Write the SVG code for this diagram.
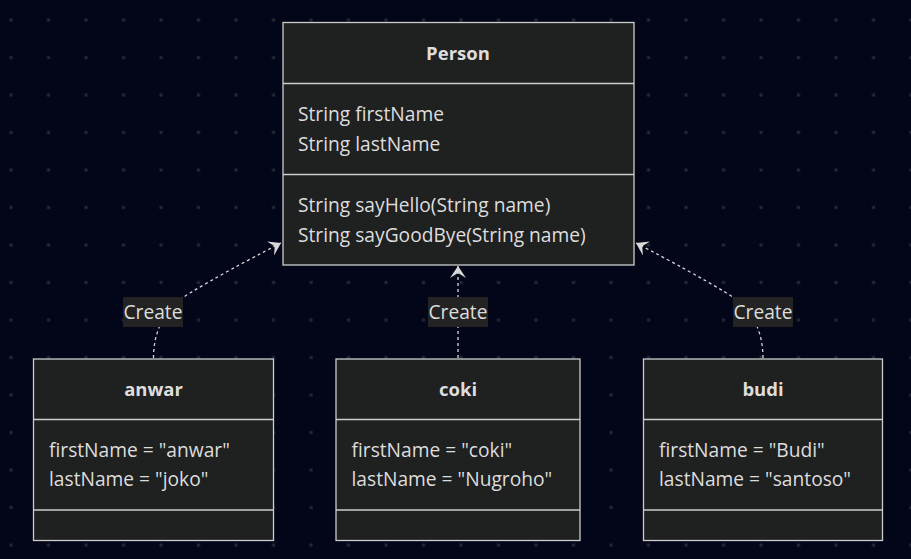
<svg xmlns="http://www.w3.org/2000/svg" width="911" height="559" viewBox="0 0 911 559">
<style>
  .box { fill: #1f2020; stroke: #cccccc; stroke-width: 1.3; }
  .div { stroke: #cccccc; stroke-width: 1.3; }
  text { font-family: "Open Sans", "Liberation Sans", sans-serif; font-size: 19.2px; font-weight: 500; fill: #dddddd; }
  .title { font-weight: bold; font-size: 18.5px; text-anchor: middle; }
  .lbl { text-anchor: middle; }
  .lblbg { fill: #232323; }
  .edge { fill: none; stroke: #d8d8d8; stroke-width: 1.3; stroke-dasharray: 3 3; }
</style>
<defs>
  <pattern id="dots" patternUnits="userSpaceOnUse" width="37.5" height="37.5">
    <rect x="9.5" y="18.5" width="3" height="3" fill="#262a36"/>
  </pattern>
  <marker id="dep" markerUnits="userSpaceOnUse" viewBox="0 0 12 16" refX="12" refY="8" markerWidth="12" markerHeight="16" orient="auto">
    <path d="M12,8 L0,0 L5,8 L0,16 Z" fill="#d8d8d8"/>
  </marker>
</defs>
<rect width="911" height="559" fill="#020618"/>
<rect width="911" height="559" fill="url(#dots)"/>

<g id="connectors">
  <path class="edge" d="M153.5,358 Q153.5,315 190,293 T281,243" marker-end="url(#dep)"/>
  <path class="edge" d="M458,358 L458,266" marker-end="url(#dep)"/>
  <path class="edge" d="M763,358 Q763,315 726.5,293 T636,243" marker-end="url(#dep)"/>
  <rect class="lblbg" x="123" y="297" width="60" height="30"/>
  <text class="lbl" x="153" y="318.5">Create</text>
  <rect class="lblbg" x="428" y="297" width="60" height="30"/>
  <text class="lbl" x="458" y="318.5">Create</text>
  <rect class="lblbg" x="733" y="297" width="60" height="30"/>
  <text class="lbl" x="763" y="318.5">Create</text>
</g>

<g id="Person">
  <rect class="box" x="283" y="22.5" width="351" height="242.5"/>
  <line class="div" x1="283" y1="83.5" x2="634" y2="83.5"/>
  <line class="div" x1="283" y1="174.5" x2="634" y2="174.5"/>
  <text class="title" x="458" y="59.5">Person</text>
  <text x="298" y="121">String firstName</text>
  <text x="298" y="151">String lastName</text>
  <text x="298" y="212">String sayHello(String name)</text>
  <text x="298" y="242">String sayGoodBye(String name)</text>
</g>

<g id="anwar">
  <rect class="box" x="33.5" y="359" width="240" height="181.5"/>
  <line class="div" x1="33.5" y1="419.5" x2="273.5" y2="419.5"/>
  <line class="div" x1="33.5" y1="510" x2="273.5" y2="510"/>
  <text class="title" x="153.5" y="395.5">anwar</text>
  <text x="49" y="456.5">firstName = "anwar"</text>
  <text x="49" y="486">lastName = "joko"</text>
</g>

<g id="coki">
  <rect class="box" x="336" y="359" width="244" height="181.5"/>
  <line class="div" x1="336" y1="419.5" x2="580" y2="419.5"/>
  <line class="div" x1="336" y1="510" x2="580" y2="510"/>
  <text class="title" x="458" y="395.5">coki</text>
  <text x="351.5" y="456.5">firstName = "coki"</text>
  <text x="351.5" y="486">lastName = "Nugroho"</text>
</g>

<g id="budi">
  <rect class="box" x="643.5" y="359" width="239" height="181.5"/>
  <line class="div" x1="643.5" y1="419.5" x2="882.5" y2="419.5"/>
  <line class="div" x1="643.5" y1="510" x2="882.5" y2="510"/>
  <text class="title" x="763" y="395.5">budi</text>
  <text x="659" y="456.5">firstName = "Budi"</text>
  <text x="659" y="486">lastName = "santoso"</text>
</g>
</svg>
